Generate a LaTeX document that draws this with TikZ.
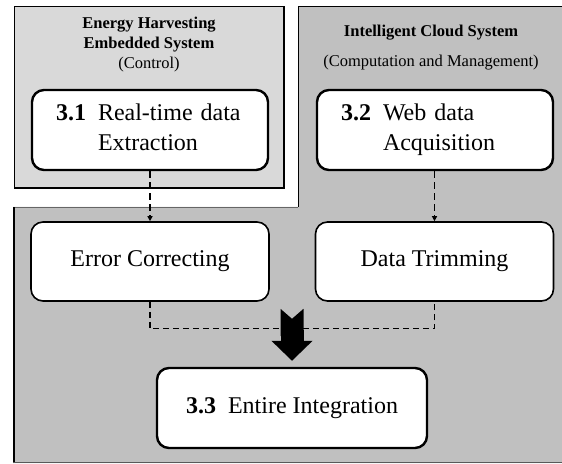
\documentclass[tikz,border=0pt]{standalone}
\usepackage{fontspec}
\setmainfont{Liberation Serif}
\usetikzlibrary{arrows.meta,calc}
\definecolor{embedgray}{RGB}{217,217,217}
\definecolor{cloudgray}{RGB}{192,192,192}
\newcommand{\boxfont}{\fontsize{24}{30}\selectfont}
\newcommand{\headfont}{\fontsize{16.5}{20}\selectfont}

\begin{document}
\begin{tikzpicture}[x=1pt,y=1pt,>=Stealth,
  stage/.style={draw,line width=2.4pt,rounded corners=12pt,fill=white,
    minimum width=236pt,minimum height=80pt,inner xsep=24pt,inner ysep=0pt,
    font=\boxfont},
  numbered/.style={stage,text width=188pt,align=left},
  plainstage/.style={stage,line width=1.6pt,minimum width=238pt,minimum height=79pt},
  flow/.style={line width=1.3pt,dash pattern=on 7pt off 4pt,
    -{Triangle[length=5pt,width=5pt]}},
  merge/.style={line width=1.1pt,dash pattern=on 6pt off 4pt}]
  \useasboundingbox (0,0) rectangle (562,463);
  % cloud side (gray L)
  \fill[cloudgray] (298,456) -- (562,456) -- (562,0) -- (13,0) -- (13,256)
     -- (298,256) -- cycle;
  \draw[line width=1pt] (298,256) -- (298,456) -- (562,456);
  \draw[line width=0.8pt,black!60] (13,256) -- (298,256);
  \draw[line width=2.5pt] (14,0) -- (14,256);
  \draw[line width=1.5pt,black!65] (13,0.75) -- (562,0.75);
  % embedded side
  \fill[embedgray] (14,275) rectangle (284,456);
  \draw[line width=1pt] (14,275) rectangle (284,456);
  \draw[line width=2.5pt] (284,456) -- (284,275) -- (14,275);
  \node[font=\headfont,align=center] (embhead) at (149,418)
     {\textbf{Energy Harvesting}\\\textbf{Embedded System}\\(Control)};
  \node[font=\headfont,align=center] (cloudhead) at (431,415)
     {\textbf{Intelligent Cloud System}\\[10pt](Computation and Management)};
  % stages
  \node[numbered] (extract) at (150,333)
     {\begin{tabular}{@{}l@{\hspace{12pt}}l@{}}\textbf{3.1}&Real-time data\\&Extraction\end{tabular}};
  \node[numbered] (acquire) at (435,333)
     {\begin{tabular}{@{}l@{\hspace{12pt}}l@{}}\textbf{3.2}&Web data\\&Acquisition\end{tabular}};
  \node[plainstage] (correct) at (150,201.5) {Error Correcting};
  \node[plainstage] (trim) at (434.5,201.5) {Data Trimming};
  \node[stage,minimum width=270pt] (integ) at (292,55)
     {\textbf{3.3}\hspace{12pt}Entire Integration};
  % connectors
  \draw[flow,line width=2pt] (extract) -- (correct);
  \draw[flow] (acquire.south -| trim.south) -- (trim);
  \draw[merge] (correct.south) -- ++(0,-27) -| (trim.south);
  \coordinate (bigstart) at ($(integ.north)+(0,58)$);
  \draw[line width=23pt,{Triangle Cap[reversed,length=10pt]}-{Triangle[length=20pt,width=40pt]}]
     (bigstart) -- ([yshift=6pt]integ.north);
\end{tikzpicture}
\end{document}
